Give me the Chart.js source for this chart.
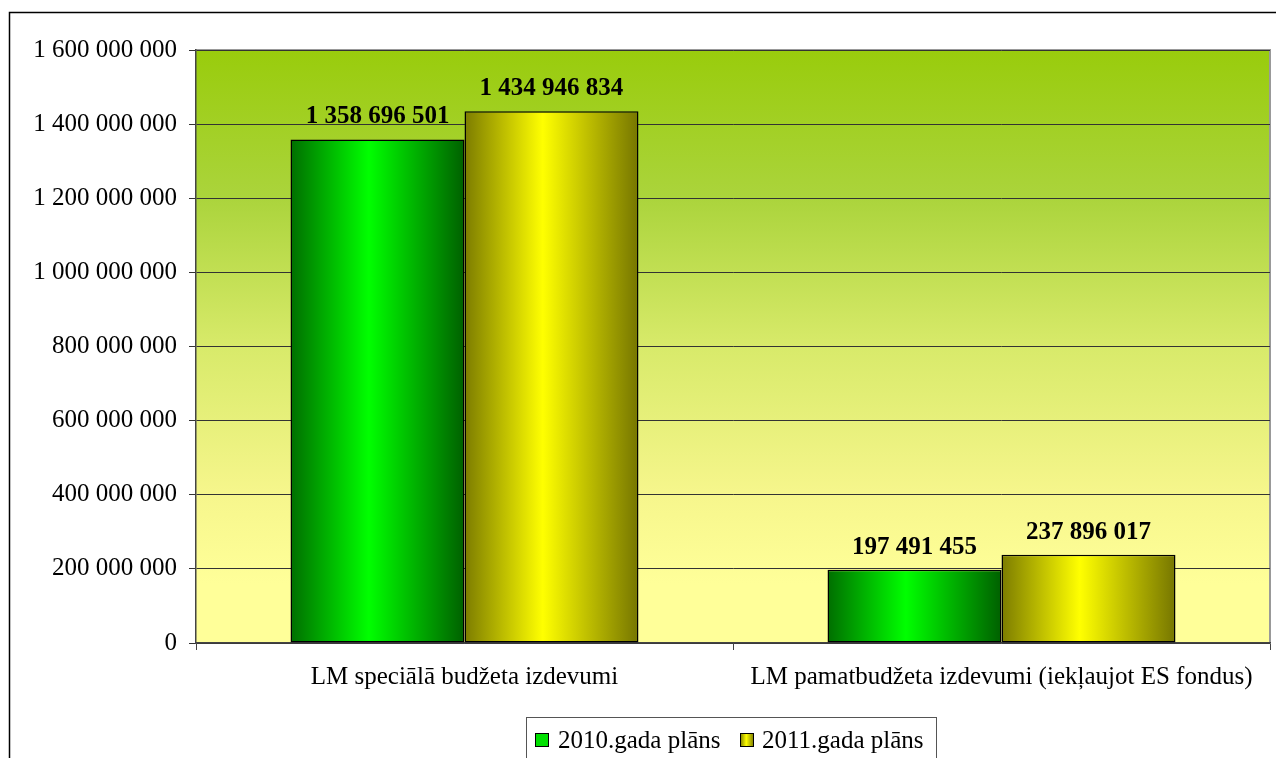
<!DOCTYPE html>
<html>
<head>
<meta charset="utf-8">
<script src="https://cdn.jsdelivr.net/npm/chart.js@4"></script>
<style>
  html, body { margin: 0; padding: 0; background: #fff; overflow: hidden; }
  #wrap { width: 1276px; height: 758px; }
</style>
</head>
<body>
<div id="wrap"><canvas id="chart"></canvas></div>
<script>
const categories = [
  "LM speciālā budžeta izdevumi",
  "LM pamatbudžeta izdevumi (iekļaujot ES fondus)",
];
const seriesNames = ["2010.gada plāns", "2011.gada plāns"];
const plan2010 = [1358696501, 197491455];
const plan2011 = [1434946834, 237896017];

const FONT = '"Liberation Serif", "Times New Roman", serif';
const CAT_PCT = 0.648;

// edge / center colours of the horizontal bar shading
const shades = [
  ["#006e00", "#00ff00", "#006000"],
  ["#7c7c00", "#ffff00", "#767600"],
];

function fmt(v) {
  return String(v).replace(/\B(?=(\d{3})+(?!\d))/g, " ");
}

function barFill(c) {
  const chart = c.chart;
  const xs = chart.scales.x;
  const s = shades[c.datasetIndex];
  if (c.type !== "data" || !xs || !chart.chartArea) return s[1];
  const center = xs.getPixelForValue(c.dataIndex);
  const groupW = (xs.width / categories.length) * CAT_PCT;
  const barW = groupW / 2;
  const left = center - groupW / 2 + c.datasetIndex * barW;
  const g = chart.ctx.createLinearGradient(left, 0, left + barW, 0);
  g.addColorStop(0, s[0]);
  g.addColorStop(0.45, s[1]);
  g.addColorStop(1, s[2]);
  return g;
}

const background = {
  id: "background",
  beforeDraw(chart) {
    const { ctx, chartArea: a } = chart;
    ctx.save();
    // outer frame
    ctx.strokeStyle = "#000";
    ctx.lineWidth = 1.5;
    ctx.strokeRect(9.5, 12.5, 1400, 900);
    const g = ctx.createLinearGradient(0, a.top, 0, a.bottom);
    g.addColorStop(0, "#99cc0c");
    g.addColorStop(0.25, "#abd43c");
    g.addColorStop(0.5, "#d8ea6a");
    g.addColorStop(0.75, "#f6f68c");
    g.addColorStop(0.9, "#ffff99");
    g.addColorStop(1, "#ffff99");
    ctx.fillStyle = g;
    ctx.fillRect(a.left, a.top, a.right - a.left, a.bottom - a.top);
    ctx.strokeStyle = "#999";
    ctx.lineWidth = 2;
    ctx.beginPath();
    ctx.moveTo(a.left, a.top);
    ctx.lineTo(a.right, a.top);
    ctx.lineTo(a.right, a.bottom);
    ctx.stroke();
    ctx.restore();
  },
};

const valueLabels = {
  id: "valueLabels",
  afterDatasetsDraw(chart) {
    const ctx = chart.ctx;
    ctx.save();
    ctx.font = "bold 25px " + FONT;
    ctx.fillStyle = "#000";
    ctx.textAlign = "center";
    ctx.textBaseline = "alphabetic";
    chart.data.datasets.forEach((ds, di) => {
      chart.getDatasetMeta(di).data.forEach((el, i) => {
        ctx.fillText(fmt(ds.data[i]), el.x, el.y - 16);
      });
    });
    ctx.restore();
  },
};

const legendBox = {
  id: "legendBox",
  afterDraw(chart) {
    const ctx = chart.ctx;
    ctx.save();
    ctx.strokeStyle = "#555";
    ctx.lineWidth = 1;
    ctx.fillStyle = "#fff";
    ctx.fillRect(526.5, 717.5, 410, 60);
    ctx.strokeRect(526.5, 717.5, 410, 60);
    ctx.font = "25px " + FONT;
    ctx.textBaseline = "middle";
    ctx.textAlign = "left";
    const items = [
      { box: 535, text: 558 },
      { box: 740, text: 762 },
    ];
    items.forEach((it, i) => {
      const g = ctx.createLinearGradient(it.box, 0, it.box + 14, 0);
      g.addColorStop(0, shades[i][0]);
      g.addColorStop(0.45, shades[i][1]);
      g.addColorStop(1, shades[i][2]);
      ctx.fillStyle = i === 0 ? "#00e000" : g;
      ctx.fillRect(it.box, 733, 14, 14);
      ctx.strokeStyle = "#000";
      ctx.strokeRect(it.box + 0.5, 733.5, 13, 13);
      ctx.fillStyle = "#000";
      ctx.fillText(seriesNames[i], it.text, 741);
    });
    ctx.restore();
  },
};

new Chart(document.getElementById("chart"), {
  type: "bar",
  data: {
    labels: categories,
    datasets: [
      {
        label: seriesNames[0],
        data: plan2010,
        backgroundColor: barFill,
        borderColor: "#000",
        borderWidth: 1.5,
        borderSkipped: false,
        barPercentage: 1,
        categoryPercentage: CAT_PCT,
      },
      {
        label: seriesNames[1],
        data: plan2011,
        backgroundColor: barFill,
        borderColor: "#000",
        borderWidth: 1.5,
        borderSkipped: false,
        barPercentage: 1,
        categoryPercentage: CAT_PCT,
      },
    ],
  },
  options: {
    responsive: true,
    maintainAspectRatio: false,
    animation: false,
    layout: { padding: { top: 50, right: 6, bottom: 0, left: 0 } },
    plugins: {
      legend: { display: false },
      tooltip: { enabled: false },
    },
    scales: {
      x: {
        afterFit(s) { s.height = 115; },
        grid: {
          offset: true,
          drawOnChartArea: false,
          tickLength: 7,
          color: "#444",
        },
        border: { color: "#444", width: 1.5 },
        ticks: {
          color: "#000",
          padding: 12,
          font: { family: FONT, size: 25 },
        },
      },
      y: {
        min: 0,
        max: 1600000000,
        afterFit(s) { s.width = 196; },
        grid: { color: "#333", tickLength: 7, lineWidth: 1 },
        border: { color: "#444", width: 1.5 },
        ticks: {
          stepSize: 200000000,
          color: "#000",
          padding: 12,
          font: { family: FONT, size: 25 },
          callback: (v) => fmt(v),
        },
      },
    },
  },
  plugins: [background, valueLabels, legendBox],
});
</script>
</body>
</html>
